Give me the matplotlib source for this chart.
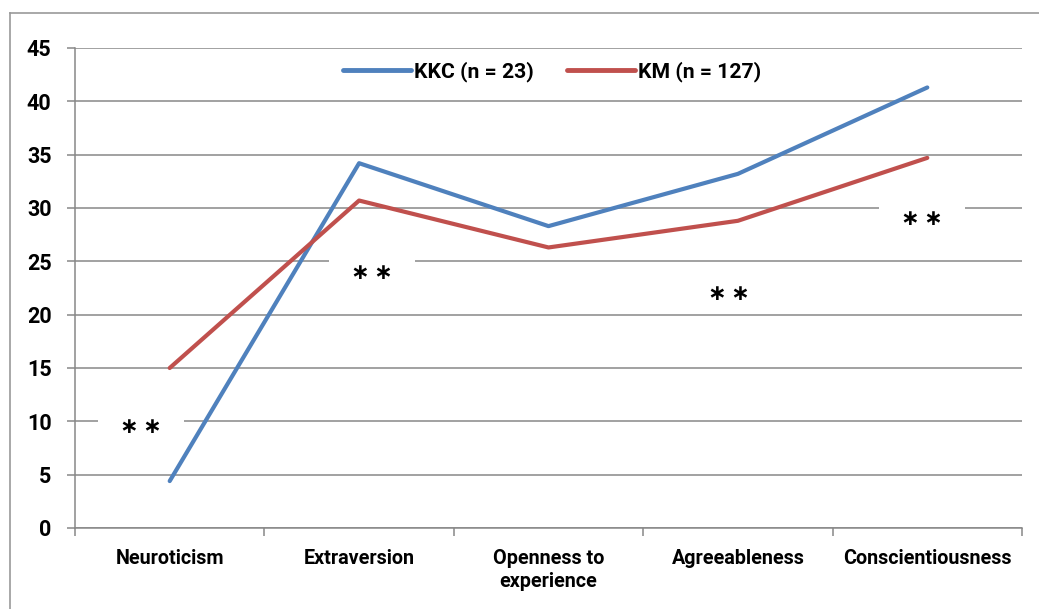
import matplotlib.pyplot as plt
from matplotlib.lines import Line2D

categories = ["Neuroticism", "Extraversion", "Openness to\nexperience",
              "Agreeableness", "Conscientiousness"]
kkc = [4.4, 34.2, 28.3, 33.2, 41.3]
km = [15.0, 30.7, 26.3, 28.8, 34.7]
series_names = ["KKC (n = 23)", "KM (n = 127)"]

# significance marks: x in category units, y value, white box behind or not
stars_x = [-0.15, 1.07, 2.95, 3.97]
stars_y = [9.5, 23.9, 21.9, 29.0]
stars_box = [True, True, False, True]

FONT = ["Roboto", "DejaVu Sans"]
plt.rcParams["font.family"] = FONT

fig = plt.figure(figsize=(10.39, 6.09), dpi=100)
ax = fig.add_axes([75 / 1039, 1 - 528 / 609, (1022 - 75) / 1039, 480 / 609])

grid_col = "#878787"
blue = "#4F81BD"
red = "#C0504D"

x = list(range(len(categories)))
ax.plot(x, kkc, color=blue, lw=3, solid_capstyle="round", zorder=3)
ax.plot(x, km, color=red, lw=3, solid_capstyle="round", zorder=3)

ax.set_xlim(-0.5, len(categories) - 0.5)
ax.set_ylim(0, 45)
ax.set_yticks(range(0, 46, 5))
ax.yaxis.grid(True, color=grid_col, lw=1.1)
ax.set_axisbelow(True)

ax.set_xticks(x)
ax.set_xticklabels(categories, fontsize=14.2, fontweight="bold", linespacing=1.3)
ax.set_xticks([i - 0.5 for i in range(len(categories) + 1)], minor=True)
ax.tick_params(axis="x", which="major", length=0, pad=15)
ax.tick_params(axis="x", which="minor", length=6, color=grid_col, width=1.1, direction="out")
ax.tick_params(axis="y", length=6, color=grid_col, width=1.1, labelsize=15.5, pad=11)
ax.set_yticklabels([str(v) for v in range(0, 46, 5)], fontweight="bold")

for s in ["top", "right"]:
    ax.spines[s].set_visible(False)
for s in ["left", "bottom"]:
    ax.spines[s].set_color(grid_col)
    ax.spines[s].set_linewidth(1.1)

for sx, sy, box in zip(stars_x, stars_y, stars_box):
    bb = dict(facecolor="white", edgecolor="none", boxstyle="square,pad=1.0") if box else None
    ax.text(sx, sy, "\u2217\u2009\u2217", fontsize=16, ha="center", va="center",
            family="DejaVu Sans", fontweight="bold", bbox=bb, zorder=2)

handles = [Line2D([], [], color=blue, lw=3.5, solid_capstyle="round"),
           Line2D([], [], color=red, lw=3.5, solid_capstyle="round")]
fig.legend(handles, series_names, loc="center", bbox_to_anchor=(552 / 1039, 1 - 72 / 609),
           ncol=2, frameon=False, handlelength=3.2, handletextpad=0.15, columnspacing=1.6,
           prop=dict(family=FONT, weight="bold", size=15.2))

# chart border (only top and left visible in the crop)
fig.add_artist(Line2D([10 / 1039, 10 / 1039], [0, 1 - 13 / 609], color="#999999", lw=1.2,
                      transform=fig.transFigure))
fig.add_artist(Line2D([10 / 1039, 1], [1 - 13 / 609, 1 - 13 / 609], color="#999999", lw=1.2,
                      transform=fig.transFigure))

fig.savefig("out.png", dpi=100)
